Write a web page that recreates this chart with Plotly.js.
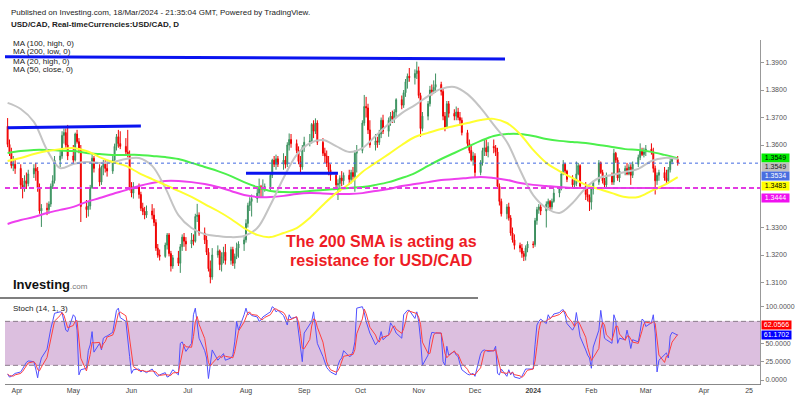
<!DOCTYPE html>
<html><head><meta charset="utf-8">
<script src="https://cdn.plot.ly/plotly-3.0.1.min.js"></script>
<style>html,body{margin:0;padding:0;background:#fff;}#chart{width:800px;height:399px;}</style>
</head><body><div id="chart"></div>
<script>
// ---------------- DATA ----------------
const firstDay = '2023-03-27';   // first daily bar (Mon)
const opens = [
1.3668,1.3602,1.3570,1.3525,1.3530,1.3515,1.3455,1.3445,1.3470,1.3460,
1.3495,1.3515,1.3505,1.3445,1.3360,1.3370,1.3365,1.3385,1.3450,1.3470,
1.3545,1.3560,1.3635,1.3645,1.3600,1.3560,1.3545,1.3640,1.3612,1.3585,
1.3376,1.3365,1.3378,1.3445,1.3552,1.3515,1.3465,1.3520,1.3530,1.3515,
1.3505,1.3545,1.3595,1.3630,1.3605,1.3595,1.3575,1.3565,1.3442,1.3425,
1.3450,1.3420,1.3370,1.3358,1.3345,1.3360,1.3345,1.3318,1.3225,1.3200,
1.3195,1.3236,1.3273,1.3205,1.3160,1.3190,1.3170,1.3230,1.3265,1.3250,
1.3240,1.3255,1.3250,1.3340,1.3345,1.3280,1.3255,1.3210,1.3150,1.3120,
1.3200,1.3215,1.3165,1.3195,1.3210,1.3180,1.3220,1.3170,1.3195,1.3225,
1.3240,1.3255,1.3315,1.3380,1.3395,1.3405,1.3425,1.3448,1.3440,1.3445,
1.3448,1.3490,1.3545,1.3530,1.3550,1.3530,1.3545,1.3530,1.3600,1.3620,
1.3605,1.3580,1.3540,1.3520,1.3590,1.3610,1.3615,1.3675,1.3650,1.3680,
1.3610,1.3570,1.3560,1.3535,1.3510,1.3490,1.3455,1.3460,1.3480,1.3470,
1.3490,1.3475,1.3500,1.3485,1.3570,1.3580,1.3680,1.3740,1.3735,1.3655,
1.3600,1.3615,1.3610,1.3640,1.3690,1.3650,1.3690,1.3705,1.3695,1.3720,
1.3765,1.3745,1.3790,1.3830,1.3850,1.3845,1.3860,1.3870,1.3780,1.3660,
1.3705,1.3750,1.3800,1.3795,1.3810,1.3820,1.3795,1.3705,1.3665,1.3750,
1.3715,1.3705,1.3720,1.3700,1.3690,1.3645,1.3605,1.3580,1.3545,1.3560,
1.3500,1.3535,1.3580,1.3590,1.3575,1.3595,1.3590,1.3575,1.3450,1.3395,
1.3350,1.3375,1.3335,1.3280,1.3255,1.3235,1.3225,1.3205,1.3195,1.3225,
1.3240,1.3238,1.3325,1.3365,1.3375,1.3360,1.3385,1.3395,1.3375,1.3395,
1.3425,1.3440,1.3495,1.3530,1.3505,1.3475,1.3455,1.3460,1.3495,1.3525,
1.3450,1.3420,1.3410,1.3392,1.3440,1.3465,1.3535,1.3500,1.3470,1.3455,
1.3490,1.3465,1.3570,1.3545,1.3480,1.3505,1.3515,1.3495,1.3520,1.3490,
1.3530,1.3555,1.3580,1.3565,1.3575,1.3585,1.3575,1.3515,1.3470,1.3490,
1.3500,1.3480,1.3470,1.3510,1.3540,1.3548];
const highs = [
1.3698,1.3620,1.3590,1.3560,1.3545,1.3530,1.3480,1.3490,1.3500,1.3510,
1.3530,1.3535,1.3520,1.3460,1.3385,1.3390,1.3395,1.3460,1.3490,1.3560,
1.3580,1.3650,1.3660,1.3660,1.3673,1.3600,1.3645,1.3655,1.3625,1.3600,
1.3400,1.3395,1.3455,1.3565,1.3560,1.3530,1.3525,1.3545,1.3545,1.3540,
1.3560,1.3605,1.3640,1.3655,1.3650,1.3625,1.3655,1.3580,1.3465,1.3465,
1.3460,1.3430,1.3390,1.3375,1.3380,1.3385,1.3370,1.3330,1.3240,1.3220,
1.3245,1.3280,1.3280,1.3215,1.3200,1.3215,1.3240,1.3275,1.3280,1.3265,
1.3280,1.3275,1.3350,1.3386,1.3355,1.3300,1.3270,1.3225,1.3180,1.3225,
1.3235,1.3220,1.3210,1.3230,1.3240,1.3230,1.3230,1.3205,1.3245,1.3250,
1.3265,1.3330,1.3390,1.3410,1.3420,1.3440,1.3478,1.3455,1.3475,1.3460,
1.3500,1.3550,1.3560,1.3565,1.3560,1.3570,1.3560,1.3610,1.3642,1.3640,
1.3620,1.3595,1.3560,1.3600,1.3630,1.3640,1.3680,1.3690,1.3697,1.3690,
1.3625,1.3590,1.3580,1.3560,1.3530,1.3500,1.3475,1.3490,1.3505,1.3500,
1.3510,1.3510,1.3520,1.3580,1.3600,1.3690,1.3782,1.3775,1.3750,1.3690,
1.3640,1.3630,1.3655,1.3700,1.3710,1.3700,1.3720,1.3725,1.3730,1.3770,
1.3780,1.3800,1.3840,1.3860,1.3880,1.3875,1.3903,1.3885,1.3790,1.3720,
1.3760,1.3815,1.3820,1.3835,1.3860,1.3830,1.3805,1.3720,1.3760,1.3760,
1.3730,1.3740,1.3735,1.3720,1.3700,1.3655,1.3620,1.3600,1.3575,1.3570,
1.3545,1.3590,1.3620,1.3620,1.3610,1.3620,1.3600,1.3590,1.3460,1.3405,
1.3385,1.3390,1.3345,1.3300,1.3275,1.3245,1.3240,1.3215,1.3235,1.3250,
1.3250,1.3335,1.3375,1.3385,1.3385,1.3395,1.3405,1.3400,1.3405,1.3440,
1.3450,1.3505,1.3545,1.3535,1.3510,1.3490,1.3475,1.3540,1.3535,1.3530,
1.3465,1.3440,1.3420,1.3445,1.3470,1.3545,1.3540,1.3510,1.3480,1.3500,
1.3500,1.3586,1.3575,1.3555,1.3515,1.3525,1.3535,1.3530,1.3530,1.3540,
1.3565,1.3606,1.3590,1.3590,1.3600,1.3606,1.3590,1.3525,1.3500,1.3510,
1.3520,1.3510,1.3520,1.3550,1.3555,1.3560];
const lows = [
1.3592,1.3560,1.3515,1.3505,1.3495,1.3440,1.3406,1.3430,1.3440,1.3450,
1.3480,1.3470,1.3430,1.3350,1.3302,1.3345,1.3350,1.3375,1.3440,1.3460,
1.3520,1.3550,1.3605,1.3590,1.3545,1.3535,1.3540,1.3605,1.3570,1.3320,
1.3335,1.3340,1.3365,1.3440,1.3500,1.3450,1.3455,1.3490,1.3500,1.3485,
1.3495,1.3535,1.3580,1.3590,1.3585,1.3565,1.3555,1.3435,1.3410,1.3405,
1.3405,1.3360,1.3345,1.3330,1.3335,1.3330,1.3305,1.3215,1.3190,1.3180,
1.3190,1.3220,1.3195,1.3140,1.3150,1.3160,1.3135,1.3215,1.3230,1.3215,
1.3225,1.3235,1.3245,1.3320,1.3270,1.3240,1.3200,1.3140,1.3097,1.3110,
1.3190,1.3145,1.3140,1.3170,1.3165,1.3165,1.3160,1.3150,1.3185,1.3190,
1.3215,1.3245,1.3300,1.3360,1.3340,1.3390,1.3410,1.3410,1.3410,1.3430,
1.3430,1.3480,1.3520,1.3510,1.3520,1.3510,1.3515,1.3520,1.3580,1.3590,
1.3570,1.3530,1.3497,1.3510,1.3575,1.3595,1.3605,1.3625,1.3640,1.3600,
1.3560,1.3535,1.3520,1.3490,1.3470,1.3440,1.3400,1.3430,1.3450,1.3455,
1.3455,1.3460,1.3470,1.3430,1.3500,1.3570,1.3670,1.3700,1.3640,1.3590,
1.3580,1.3590,1.3600,1.3625,1.3640,1.3630,1.3670,1.3680,1.3680,1.3700,
1.3730,1.3735,1.3775,1.3805,1.3830,1.3820,1.3840,1.3770,1.3630,1.3650,
1.3690,1.3740,1.3780,1.3785,1.3790,1.3780,1.3690,1.3650,1.3660,1.3700,
1.3690,1.3690,1.3690,1.3670,1.3635,1.3595,1.3570,1.3540,1.3525,1.3480,
1.3490,1.3525,1.3560,1.3560,1.3555,1.3570,1.3560,1.3440,1.3380,1.3340,
1.3330,1.3325,1.3270,1.3245,1.3220,1.3210,1.3190,1.3178,1.3180,1.3210,
1.3225,1.3230,1.3310,1.3350,1.3345,1.3300,1.3370,1.3360,1.3365,1.3390,
1.3410,1.3435,1.3490,1.3495,1.3465,1.3445,1.3440,1.3450,1.3490,1.3440,
1.3400,1.3395,1.3360,1.3365,1.3420,1.3455,1.3495,1.3460,1.3440,1.3445,
1.3455,1.3455,1.3535,1.3470,1.3465,1.3490,1.3490,1.3490,1.3455,1.3480,
1.3520,1.3545,1.3560,1.3555,1.3560,1.3565,1.3500,1.3420,1.3455,1.3470,
1.3470,1.3460,1.3460,1.3500,1.3530,1.3525];
const closes = [
1.3602,1.3570,1.3525,1.3530,1.3515,1.3455,1.3445,1.3470,1.3460,1.3495,
1.3515,1.3505,1.3445,1.3360,1.3370,1.3365,1.3385,1.3450,1.3470,1.3545,
1.3560,1.3635,1.3645,1.3600,1.3560,1.3545,1.3640,1.3612,1.3585,1.3376,
1.3365,1.3378,1.3445,1.3552,1.3515,1.3465,1.3520,1.3530,1.3515,1.3505,
1.3545,1.3595,1.3630,1.3605,1.3595,1.3575,1.3565,1.3442,1.3425,1.3450,
1.3420,1.3370,1.3358,1.3345,1.3360,1.3345,1.3318,1.3225,1.3200,1.3195,
1.3236,1.3273,1.3205,1.3160,1.3190,1.3170,1.3230,1.3265,1.3250,1.3240,
1.3255,1.3250,1.3340,1.3345,1.3280,1.3255,1.3210,1.3150,1.3120,1.3200,
1.3215,1.3165,1.3195,1.3210,1.3180,1.3220,1.3170,1.3195,1.3225,1.3240,
1.3255,1.3315,1.3380,1.3395,1.3405,1.3425,1.3448,1.3440,1.3445,1.3448,
1.3490,1.3545,1.3530,1.3550,1.3530,1.3545,1.3530,1.3600,1.3620,1.3605,
1.3580,1.3540,1.3520,1.3590,1.3610,1.3615,1.3675,1.3650,1.3680,1.3610,
1.3570,1.3560,1.3535,1.3510,1.3490,1.3455,1.3460,1.3480,1.3470,1.3490,
1.3475,1.3500,1.3485,1.3570,1.3580,1.3680,1.3740,1.3735,1.3655,1.3600,
1.3615,1.3610,1.3640,1.3690,1.3650,1.3690,1.3705,1.3695,1.3720,1.3765,
1.3745,1.3790,1.3830,1.3850,1.3845,1.3860,1.3870,1.3780,1.3660,1.3705,
1.3750,1.3800,1.3795,1.3810,1.3820,1.3795,1.3705,1.3665,1.3750,1.3715,
1.3705,1.3720,1.3700,1.3690,1.3645,1.3605,1.3580,1.3545,1.3560,1.3500,
1.3535,1.3580,1.3590,1.3575,1.3595,1.3590,1.3575,1.3450,1.3395,1.3350,
1.3375,1.3335,1.3280,1.3255,1.3235,1.3225,1.3205,1.3195,1.3225,1.3240,
1.3238,1.3325,1.3365,1.3375,1.3360,1.3385,1.3395,1.3375,1.3395,1.3425,
1.3440,1.3495,1.3530,1.3505,1.3475,1.3455,1.3460,1.3495,1.3525,1.3450,
1.3420,1.3410,1.3392,1.3440,1.3465,1.3535,1.3500,1.3470,1.3455,1.3490,
1.3465,1.3570,1.3545,1.3480,1.3505,1.3515,1.3495,1.3520,1.3490,1.3530,
1.3555,1.3580,1.3565,1.3575,1.3585,1.3575,1.3515,1.3470,1.3490,1.3500,
1.3480,1.3470,1.3510,1.3540,1.3548,1.3534];

// moving averages, one reading per week (Mondays from firstDay)
const ma100High = [
1.3571,1.3578,1.3582,1.3582,1.3580,1.3578,1.3571,1.3567,1.3564,1.3564,
1.3564,1.3560,1.3556,1.3549,1.3535,1.3520,1.3505,1.3487,1.3465,1.3447,
1.3433,1.3429,1.3429,1.3433,1.3436,1.3440,1.3444,1.3447,1.3455,1.3465,
1.3480,1.3498,1.3524,1.3549,1.3571,1.3593,1.3615,1.3633,1.3640,1.3640,
1.3633,1.3622,1.3615,1.3611,1.3607,1.3600,1.3593,1.3585,1.3582,1.3575,
1.3564,1.3552];
const ma200Low = [
1.3313,1.3327,1.3338,1.3353,1.3364,1.3375,1.3393,1.3407,1.3422,1.3436,
1.3451,1.3462,1.3469,1.3469,1.3465,1.3458,1.3447,1.3433,1.3418,1.3411,
1.3411,1.3415,1.3422,1.3425,1.3424,1.3422,1.3422,1.3425,1.3433,1.3440,
1.3451,1.3458,1.3465,1.3473,1.3476,1.3480,1.3484,1.3480,1.3473,1.3462,
1.3455,1.3451,1.3447,1.3444,1.3444,1.3444,1.3444,1.3444,1.3444,1.3444,
1.3444,1.3444];
const ma20High = [
1.3753,1.3731,1.3684,1.3582,1.3516,1.3531,1.3538,1.3535,1.3538,1.3549,
1.3553,1.3524,1.3444,1.3345,1.3298,1.3276,1.3269,1.3265,1.3269,1.3298,
1.3382,1.3480,1.3564,1.3607,1.3618,1.3596,1.3575,1.3589,1.3633,1.3676,
1.3716,1.3745,1.3778,1.3804,1.3811,1.3785,1.3735,1.3673,1.3611,1.3509,
1.3418,1.3371,1.3353,1.3389,1.3444,1.3480,1.3491,1.3502,1.3513,1.3542,
1.3553,1.3549];
const ma50Close = [
1.3542,1.3553,1.3567,1.3578,1.3585,1.3589,1.3578,1.3556,1.3538,1.3524,
1.3498,1.3476,1.3455,1.3433,1.3411,1.3385,1.3360,1.3331,1.3298,1.3273,
1.3265,1.3280,1.3298,1.3335,1.3382,1.3425,1.3458,1.3502,1.3535,1.3567,
1.3600,1.3629,1.3644,1.3658,1.3669,1.3680,1.3691,1.3695,1.3680,1.3640,
1.3582,1.3535,1.3505,1.3480,1.3455,1.3440,1.3425,1.3411,1.3411,1.3433,
1.3455,1.3483];

// Stochastic %K (14, 1), one value per daily bar
const stochK = [
8,4,5,7,9,11,15,20,24,26, 25,15,3,20,30,42,58,70,80,91,
93,92,80,68,66,89,86,68,7,14, 16,40,48,66,38,50,41,57,59,60,
65,80,95,98,85,80,60,32,9,14, 15,11,13,12,10,15,11,7,5,7,
10,4,5,10,14,7,50,52,45,39, 50,89,98,73,57,40,30,2,25,41,
27,30,34,36,27,30,34,52,80,68, 89,98,89,91,88,86,80,82,86,88,
93,100,98,93,95,88,82,75,89,84, 86,66,39,25,64,77,80,93,73,50,
32,25,17,14,11,7,20,27,30,40, 32,33,39,52,98,100,92,80,72,64,
48,52,55,66,55,62,78,74,70,64, 57,89,92,95,95,84,93,80,55,20,
34,55,65,64,64,64,25,20,46,34, 39,34,32,22,14,8,7,8,9,5,
36,40,41,40,39,40,46,9,7,15, 5,14,7,11,4,2,5,10,15,15,
15,48,75,80,83,77,89,84,86,90, 92,95,96,89,77,68,73,92,75,59,
41,34,30,16,45,68,95,73,57,55, 50,89,81,50,57,55,68,57,43,55,
52,66,83,81,73,78,89,64,11,27, 34,37,30,60,65,61.17];

// drawn trend lines (start/end dates and prices)
const trendDates = [['2023-03-25 14:30','2023-12-17'],['2023-03-27','2023-06-06'],['2023-08-01','2023-09-19']];
const trendPrices = [[1.3921,1.3913],[1.3663,1.3669],[1.3497,1.3497]];

// price ticks shown (1.3400 / 1.3500 are hidden behind the value labels)
const priceTicks = [1.31,1.32,1.33,1.36,1.37,1.38,1.39];
const stochTicks = [0,25,50,100];
const monthTickDates = ['2023-04-01','2023-05-01','2023-06-01','2023-07-01','2023-08-01','2023-09-01','2023-10-01','2023-11-01','2023-12-01','2024-01-01','2024-02-01','2024-03-01','2024-04-01','2024-04-25'];
const monthTickText = ['Apr','May','Jun','Jul','Aug','Sep','Oct','Nov','Dec','<b>2024</b>','Feb','Mar','Apr','25'];

const priceLabelValues = ['1.3549','1.3549','1.3534','1.3483','1.3444']; // MA100, MA20, last, MA50, MA200
const stochLabelValues = ['62.0566','61.1702'];

// ---------------- DERIVED ----------------
function businessDays(start, n){
  const out=[]; const d=new Date(start+'T00:00:00Z');
  while(out.length<n){const wd=d.getUTCDay(); if(wd!==0&&wd!==6) out.push(d.toISOString().slice(0,10)); d.setUTCDate(d.getUTCDate()+1);}
  return out;
}
function weekly(start, n){
  const out=[]; const d=new Date(start+'T00:00:00Z');
  for(let i=0;i<n;i++){out.push(d.toISOString().slice(0,10)); d.setUTCDate(d.getUTCDate()+7);}
  return out;
}
const dates = businessDays(firstDay, closes.length);
const maDates = weekly(firstDay, ma100High.length);
const stochD = stochK.map((v,i)=>{const s=stochK.slice(Math.max(0,i-2),i+1); return s.reduce((a,b)=>a+b,0)/s.length;});

// ---------------- LAYOUT GEOMETRY ----------------
const W=800,H=399,ML=5,MR=40,MT=40,MB=15;
const PW=W-ML-MR, PH=H-MT-MB;
const fx=p=>(p-ML)/PW, fy=p=>(H-MB-p)/PH;
const FONT='Liberation Sans, Arial, sans-serif';

const traces=[];
traces.push({type:'candlestick',x:dates,open:opens,high:highs,low:lows,close:closes,
  xaxis:'x',yaxis:'y',hoverinfo:'skip',whiskerwidth:0,
  increasing:{line:{color:'#3d8f5f',width:1},fillcolor:'#2fc46f'},
  decreasing:{line:{color:'#f00000',width:1},fillcolor:'#ff1010'}});
const maStyles=[[ma100High,'#4cf04c'],[ma200Low,'#ee3fee'],[ma20High,'#c4c4c4'],[ma50Close,'#ffff30']];
maStyles.forEach(([ys,c])=>traces.push({type:'scatter',mode:'lines',x:maDates,y:ys,xaxis:'x',yaxis:'y',
  line:{color:c,width:2,shape:'spline',smoothing:1},hoverinfo:'skip'}));
trendDates.forEach((d,i)=>traces.push({type:'scatter',mode:'lines',x:d,y:trendPrices[i],xaxis:'x',yaxis:'y',
  line:{color:'#0a14f0',width:3},hoverinfo:'skip'}));
traces.push({type:'scatter',mode:'lines',x:dates,y:stochK,xaxis:'x',yaxis:'y2',line:{color:'#5050ff',width:1},hoverinfo:'skip'});
traces.push({type:'scatter',mode:'lines',x:dates,y:stochD,xaxis:'x',yaxis:'y2',line:{color:'#ff4040',width:1},hoverinfo:'skip'});

const lastClose=closes[closes.length-1];
const ma200Last=ma200Low[ma200Low.length-1];
const shapes=[
  {type:'rect',xref:'paper',yref:'y2',x0:0,x1:1,y0:20,y1:80,fillcolor:'#dcbfdf',line:{width:0},layer:'below'},
  {type:'line',xref:'paper',yref:'y2',x0:0,x1:1,y0:80,y1:80,line:{color:'#8c7c8c',width:1,dash:'5px,3px'}},
  {type:'line',xref:'paper',yref:'y2',x0:0,x1:1,y0:20,y1:20,line:{color:'#8c7c8c',width:1,dash:'5px,3px'}},
  {type:'line',xref:'paper',yref:'y',x0:0,x1:1,y0:lastClose,y1:lastClose,line:{color:'#4169e1',width:1,dash:'dot'}},
  {type:'line',xref:'paper',yref:'y',x0:0,x1:1,y0:ma200Last,y1:ma200Last,line:{color:'#e23be2',width:2,dash:'5px,3px'}},
  {type:'line',xref:'paper',yref:'paper',x0:fx(0),x1:fx(478),y0:fy(298),y1:fy(298),line:{color:'#555',width:1.5}}
];

const ann=[];
function txt(t,x,y,size,opts){ann.push(Object.assign({text:t,xref:'paper',yref:'paper',x:fx(x),y:fy(y),xanchor:'left',yanchor:'middle',showarrow:false,
  font:{family:FONT,size:size,color:'#222'}},opts||{}));}
txt('Published on Investing.com, 18/Mar/2024 - 21:35:04 GMT, Powered by TradingView.',9,12.5,8);
txt('<b>USD/CAD, Real-timeCurrencies:USD/CAD, D</b>',9,25,8);
txt('MA (100, high, 0)',11,43.5,8);
txt('MA (200, low, 0)',11,52,8);
txt('MA (20, high, 0)',11,61,8);
txt('MA (50, close, 0)',11,69.5,8);
txt('Stoch (14, 1, 3)',11,308,8);
txt('<b>Investing</b><span style="font-size:8px;color:#777">.com</span>',11,284,13,{font:{family:FONT,size:13,color:'#111'}});
txt('<b>The 200 SMA is acting as</b>',381,242,16,{xanchor:'center',font:{family:FONT,size:16,color:'#ee1c25'}});
txt('<b>resistance for USD/CAD</b>',381,260,16,{xanchor:'center',font:{family:FONT,size:16,color:'#ee1c25'}});

const priceLabelY=[158.3,166.8,175.8,186.2,198.2];
const priceLabelBg=['#00ee00','#c0c0c0','#4a6fe0','#ffff00','#f010f0'];
const priceLabelFg=['#000','#222','#fff','#000','#fff'];
priceLabelValues.forEach((v,i)=>txt(v,761,priceLabelY[i],7,{bgcolor:priceLabelBg[i],borderpad:0.5,width:26,height:6.5,align:'center',
  font:{family:FONT,size:7,color:priceLabelFg[i]}}));
const stochLabelY=[324.5,335];
const stochLabelBg=['#ff0000','#0000ff'];
stochLabelValues.forEach((v,i)=>txt(v,761,stochLabelY[i],7,{bgcolor:stochLabelBg[i],borderpad:0.5,width:28,height:6.5,align:'center',
  font:{family:FONT,size:7,color:'#fff'}}));

// axis ranges from pixel geometry
const pxPerDay=1.877, apr1px=17;
function dateAtPx(p){const t=Date.UTC(2023,3,1)+((p-apr1px)/pxPerDay)*86400000; return new Date(t).toISOString().replace('T',' ').slice(0,19);}
const priceAtPy=p=>1.39-(p-62.5)/2750;
const stochAtPy=p=>(380-p)/0.733;

const layout={
  width:W,height:H,margin:{l:ML,r:MR,t:MT,b:MB},paper_bgcolor:'#fff',plot_bgcolor:'#fff',showlegend:false,
  font:{family:FONT},
  xaxis:{type:'date',range:[dateAtPx(ML),dateAtPx(W-MR)],anchor:'y2',domain:[0,1],rangeslider:{visible:false},
    showgrid:false,zeroline:false,showline:true,linecolor:'#888',linewidth:1,ticks:'',
    tickvals:monthTickDates,ticktext:monthTickText,tickfont:{size:7,color:'#444',family:FONT},fixedrange:true},
  yaxis:{domain:[fy(298),1],range:[priceAtPy(298),priceAtPy(MT)],side:'right',anchor:'x',
    showgrid:false,zeroline:false,showline:true,linecolor:'#999',linewidth:1,ticks:'outside',ticklen:3,tickcolor:'#999',
    tickvals:priceTicks,ticktext:priceTicks.map(v=>v.toFixed(4)),tickfont:{size:7,color:'#555',family:FONT},fixedrange:true},
  yaxis2:{domain:[0,fy(298)],range:[stochAtPy(H-MB),stochAtPy(298)],side:'right',anchor:'x',
    showgrid:false,zeroline:false,showline:true,linecolor:'#999',linewidth:1,ticks:'outside',ticklen:3,tickcolor:'#999',
    tickvals:stochTicks,ticktext:stochTicks.map(v=>v.toFixed(4)),tickfont:{size:7,color:'#555',family:FONT},fixedrange:true},
  shapes:shapes,annotations:ann
};
Plotly.newPlot('chart',traces,layout,{staticPlot:true,displayModeBar:false});
</script></body></html>
